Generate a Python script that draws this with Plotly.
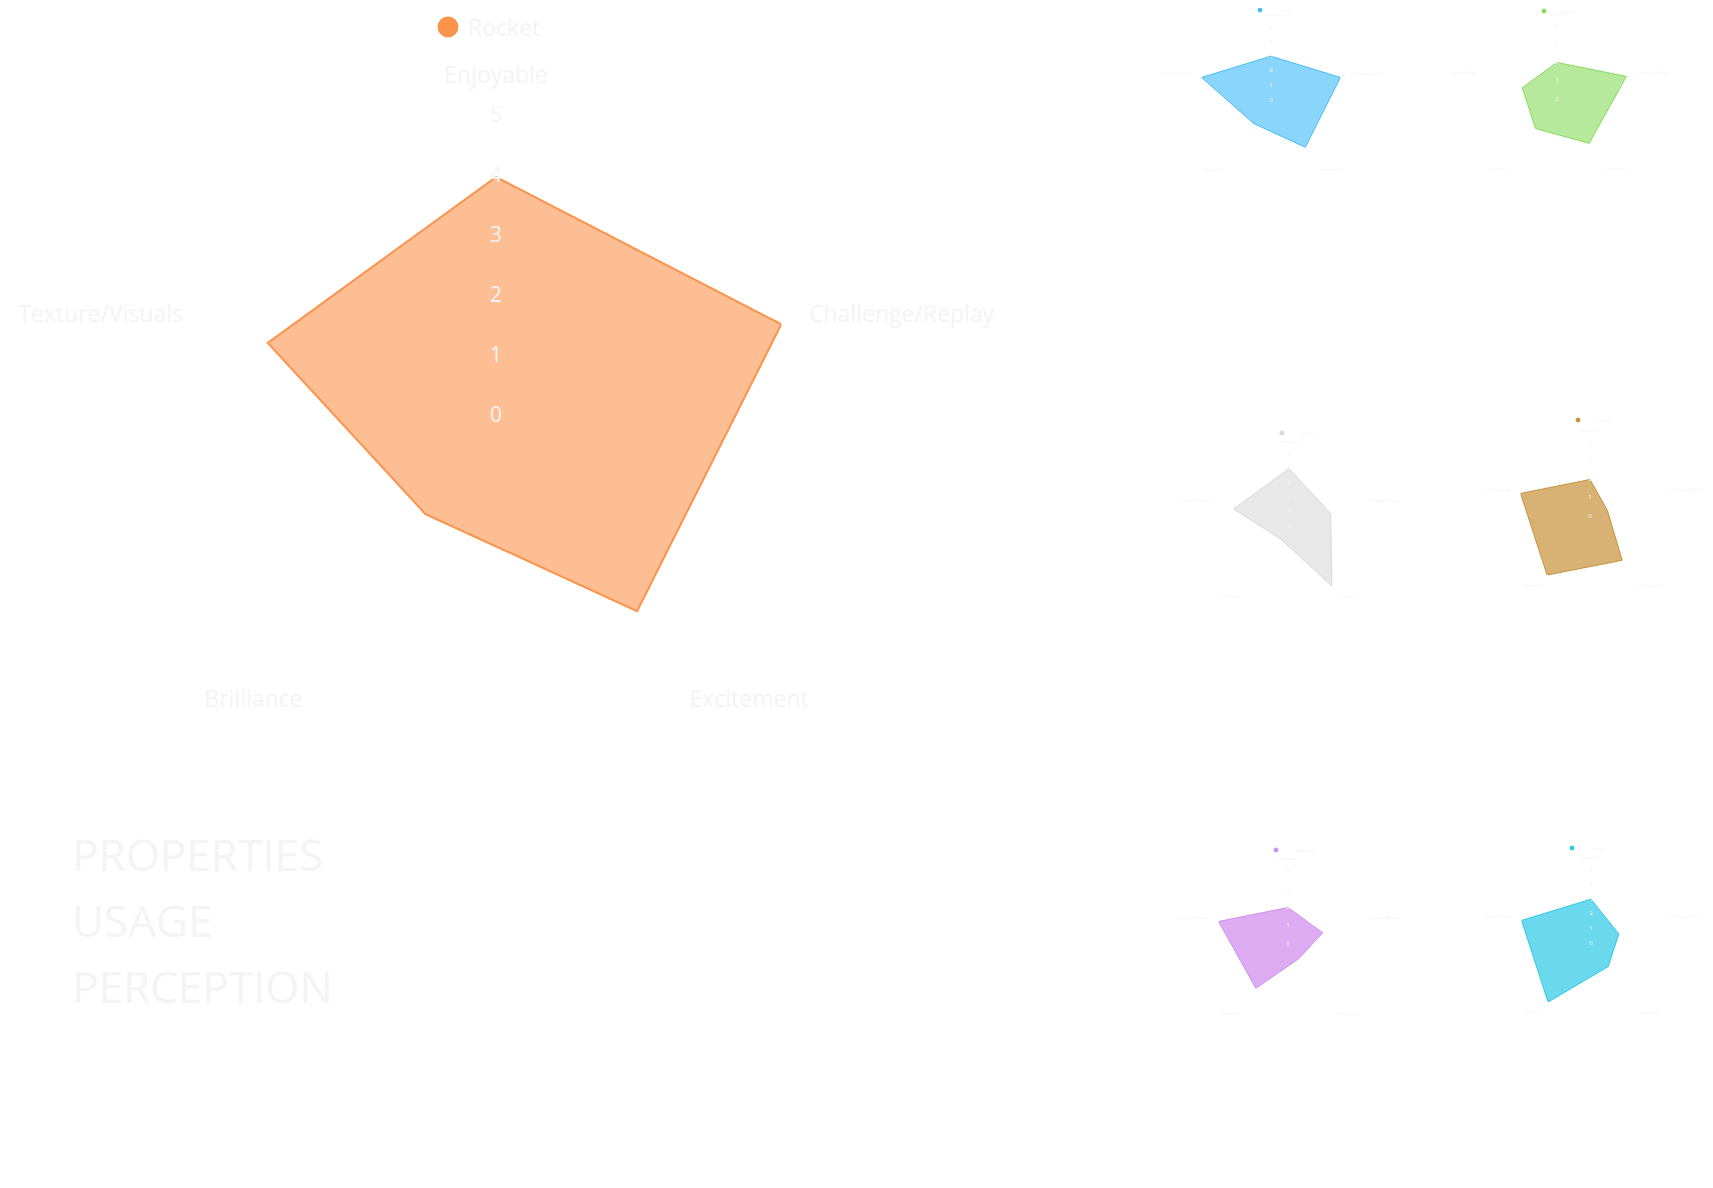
import plotly.graph_objects as go

# ---- data ----
categories = ["Enjoyable", "Challenge/Replay", "Excitement", "Brilliance", "Texture/Visuals"]
series_names = ["Rocket", "Puzzle", "Arcade", "Strategy", "Racing", "Adventure", "Sports"]
rocket = [4, 5, 4, 2, 4]
puzzle = [3, 5, 4, 2, 5]
arcade = [2, 4, 3, 2, 2]
strategy = [4, 3, 5, 1, 4]
racing = [2, 1, 3, 4, 4]
adventure = [2, 2, 1, 3, 4]
sports = [3, 2, 2, 5, 5]
series_values = [rocket, puzzle, arcade, strategy, racing, adventure, sports]
title_lines = ["PROPERTIES", "USAGE", "PERCEPTION"]

# ---- styling / layout ----
W, H = 1713, 1188
line_colors = ["#FC934B", "#45BCF8", "#85DA5A", "#D9D9D9", "#C8913A", "#D08FEC", "#2BC8E6"]
fill_colors = ["rgba(252,147,75,0.6)", "rgba(69,188,248,0.63)", "rgba(133,218,90,0.6)",
               "rgba(217,217,217,0.6)", "rgba(200,145,58,0.7)", "rgba(208,143,236,0.75)",
               "rgba(43,200,230,0.7)"]
# polar centres (px) and radius (px)
centers = [(488, 409), (1263, 92), (1549, 91), (1281, 519), (1582, 508), (1280, 936), (1583, 935)]
radii = [300, 73, 73, 73, 73, 73, 73]
legend_dots = [(440, 19), (1252, 2), (1536, 3), (1274, 425), (1570, 412), (1268, 842), (1564, 840)]
TXT = "#f4f4f4"
FONT = "Open Sans"

fig = go.Figure()
layout = dict(
    width=W, height=H, paper_bgcolor="white", plot_bgcolor="white",
    margin=dict(l=0, r=0, t=0, b=0, autoexpand=False),
    font=dict(family=FONT, color=TXT),
    showlegend=True,
)

for i, (name, vals) in enumerate(zip(series_names, series_values)):
    pk = "polar" if i == 0 else f"polar{i+1}"
    lk = "legend" if i == 0 else f"legend{i+1}"
    big = i == 0
    rmax = max(vals)
    fig.add_trace(go.Scatterpolar(
        r=vals + [vals[0]], theta=categories + [categories[0]],
        mode="lines", fill="toself", fillcolor=fill_colors[i],
        line=dict(color=line_colors[i], width=2 if big else 1),
        name=name, subplot=pk, showlegend=False, hoverinfo="skip",
    ))
    # radial tick labels, centred on the radial axis
    ticks = list(range(0, rmax + 1))
    fig.add_trace(go.Scatterpolar(
        r=ticks, theta=[categories[0]] * len(ticks), mode="text",
        text=[str(t) for t in ticks], textposition="middle center",
        textfont=dict(size=21 if big else 6, color=TXT, family=FONT),
        subplot=pk, showlegend=False, hoverinfo="skip",
    ))
    fig.add_trace(go.Scatterpolar(
        r=[None], theta=[categories[0]], mode="markers",
        marker=dict(color=line_colors[i], size=16 if big else 4,
                    line=dict(color=line_colors[i], width=5 if big else 1)),
        name=name, subplot=pk, legend=lk, showlegend=True,
    ))
    cx, cy = centers[i]
    R = radii[i]
    layout[pk] = dict(
        domain=dict(x=[(cx - R) / W, (cx + R) / W], y=[1 - (cy + R) / H, 1 - (cy - R) / H]),
        bgcolor="rgba(0,0,0,0)",
        angularaxis=dict(rotation=90, direction="clockwise", showgrid=False, showline=False,
                         ticks="outside", ticklen=24 if big else 9, tickcolor="white",
                         tickfont=dict(size=23 if big else 4, color=TXT, family=FONT)),
        radialaxis=dict(range=[0, rmax], angle=90, showgrid=False, showline=False,
                        ticks="", showticklabels=False),
    )
    dx, dy = legend_dots[i]
    layout[lk] = dict(
        x=(dx - 20) / W, y=1 - dy / H, xanchor="left", yanchor="middle",
        bgcolor="rgba(0,0,0,0)", font=dict(size=23 if big else 4, color=TXT, family=FONT),
    )

annotations = []
for j, t in enumerate(title_lines):
    annotations.append(dict(
        text=t, x=62 / W, y=1 - (846 + 66 * j) / H, xref="paper", yref="paper",
        xanchor="left", yanchor="middle", showarrow=False,
        font=dict(size=44, color=TXT, family=FONT),
    ))
layout["annotations"] = annotations

fig.update_layout(**layout)
fig.write_html("out.html")
